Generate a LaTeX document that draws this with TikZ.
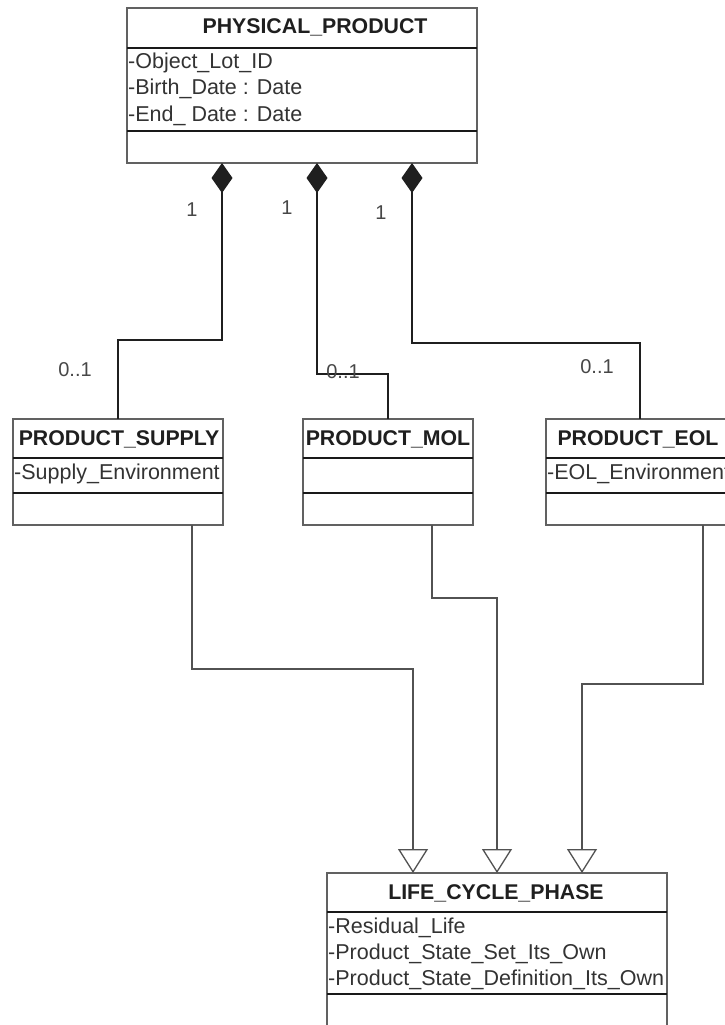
\documentclass[tikz,border=0pt]{standalone}
\usepackage{fontspec}
\setmainfont{Liberation Sans}
\usetikzlibrary{arrows.meta,calc}
\begin{document}
\begin{tikzpicture}[x=1pt,y=-1pt,
  umlbox/.style={draw=black!62, line width=1.7pt, rectangle, anchor=north west, inner sep=0pt, outer sep=0pt},
  sepline/.style={draw=black!90, line width=1.3pt},
  ttl/.style={font=\fontsize{21.3}{25}\selectfont\bfseries, text=black!88, anchor=base, inner sep=0pt},
  attr/.style={font=\fontsize{21.5}{25}\selectfont, text=black!80, anchor=base west, inner sep=0pt},
  mult/.style={font=\fontsize{20}{24}\selectfont, text=black!72, inner sep=0pt},
  comp/.style={draw=black!88, line width=1.3pt, {Diamond[width=21pt,length=30pt]}-},
  gen/.style={draw=black!68, line width=1.6pt, -{Triangle[open,width=30pt,length=24pt,line width=1.3pt]}},
]
\clip (0,0) rectangle (725,1025);
\fill[white] (0,0) rectangle (725,1025);

% PHYSICAL_PRODUCT
\node[umlbox, minimum width=350pt, minimum height=155pt] (pp) at (127,8) {};
\draw[sepline] ($(pp.north west)+(0,40)$) -- ($(pp.north east)+(0,40)$);
\draw[sepline] ($(pp.north west)+(0,123)$) -- ($(pp.north east)+(0,123)$);
\node[ttl] (ppt) at ($(pp.north)+(13,26)$) {PHYSICAL\_PRODUCT};
\node[attr] (ppa1) at ($(pp.north west)+(1,61)$) {-Object\_Lot\_ID};
\node[attr] (ppa2) at ($(pp.north west)+(1,87)$) {-Birth\_Date : Date};
\node[attr] (ppa3) at ($(pp.north west)+(1,113)$) {-End\_ Date : Date};

% PRODUCT_SUPPLY
\node[umlbox, minimum width=210pt, minimum height=106pt] (ps) at (13,419) {};
\draw[sepline] ($(ps.north west)+(0,39)$) -- ($(ps.north east)+(0,39)$);
\draw[sepline] ($(ps.north west)+(0,74)$) -- ($(ps.north east)+(0,74)$);
\node[ttl] (pst) at ($(ps.north)+(1,26)$) {PRODUCT\_SUPPLY};
\node[attr] (psa1) at ($(ps.north west)+(1,60)$) {-Supply\_Environment};

% PRODUCT_MOL
\node[umlbox, minimum width=170pt, minimum height=106pt] (mol) at (303,419) {};
\draw[sepline] ($(mol.north west)+(0,39)$) -- ($(mol.north east)+(0,39)$);
\draw[sepline] ($(mol.north west)+(0,74)$) -- ($(mol.north east)+(0,74)$);
\node[ttl] (molt) at ($(mol.north)+(0,26)$) {PRODUCT\_MOL};

% PRODUCT_EOL
\node[umlbox, minimum width=188pt, minimum height=106pt] (eol) at (546,419) {};
\draw[sepline] ($(eol.north west)+(0,39)$) -- ($(eol.north east)+(0,39)$);
\draw[sepline] ($(eol.north west)+(0,74)$) -- ($(eol.north east)+(0,74)$);
\node[ttl] (eolt) at ($(eol.north)+(-2,26)$) {PRODUCT\_EOL};
\node[attr] (eola1) at ($(eol.north west)+(1,60)$) {-EOL\_Environment};

% LIFE_CYCLE_PHASE
\node[umlbox, minimum width=340pt, minimum height=190pt] (lcp) at (327,873) {};
\draw[sepline] ($(lcp.north west)+(0,39)$) -- ($(lcp.north east)+(0,39)$);
\draw[sepline] ($(lcp.north west)+(0,121)$) -- ($(lcp.north east)+(0,121)$);
\node[ttl] (lcpt) at ($(lcp.north)+(-1,26)$) {LIFE\_CYCLE\_PHASE};
\node[attr] (lcpa1) at ($(lcp.north west)+(1,60)$) {-Residual\_Life};
\node[attr] (lcpa2) at ($(lcp.north west)+(1,86)$) {-Product\_State\_Set\_Its\_Own};
\node[attr] (lcpa3) at ($(lcp.north west)+(1,112)$) {-Product\_State\_Definition\_Its\_Own};

% compositions
\draw[comp] ($(pp.south west)+(95,0)$) -- ++(0,177) -| (ps.north);
\draw[comp] ($(pp.south west)+(190,0)$) -- ++(0,211) -| (mol.north);
\draw[comp] ($(pp.south west)+(285,0)$) -- ++(0,180) -| (eol.north);

% multiplicities
\node[mult] (m1a) at (192,210) {1};
\node[mult] (m2a) at (287,208) {1};
\node[mult] (m3a) at (381,213) {1};
\node[mult] (m1b) at (75,370) {0..1};
\node[mult] (m2b) at (343,372) {0..1};
\node[mult] (m3b) at (597,367) {0..1};

% generalizations
\draw[gen] ($(ps.south west)+(179,0)$) -- ++(0,144) -| ($(lcp.north west)+(86,0)$);
\draw[gen] ($(mol.south west)+(129,0)$) -- ++(0,73) -| (lcp.north);
\draw[gen] ($(eol.south west)+(157,0)$) -- ++(0,159) -| ($(lcp.north west)+(255,0)$);
\end{tikzpicture}
\end{document}
